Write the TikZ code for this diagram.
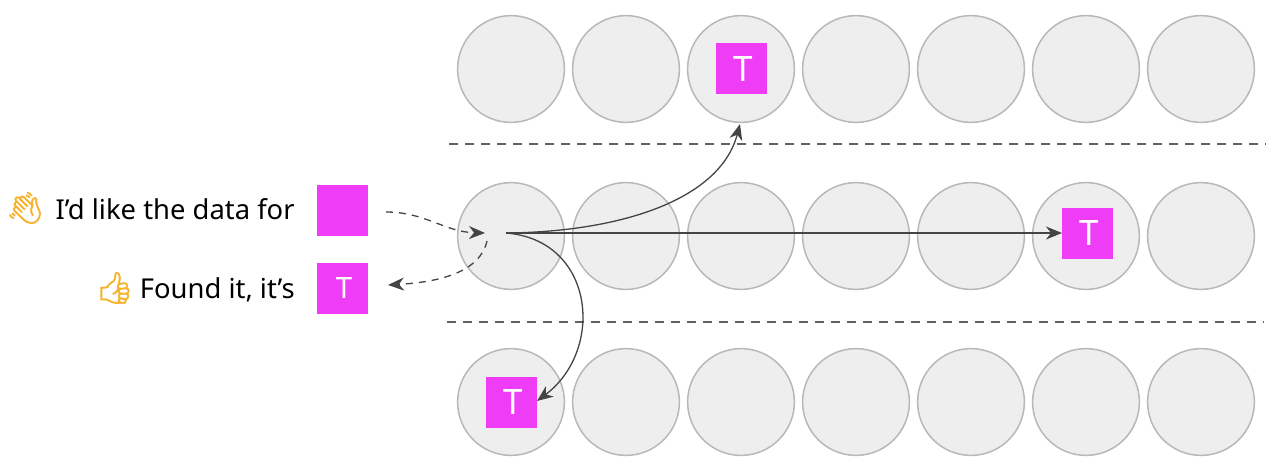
\documentclass[tikz,border=0pt]{standalone}
\usepackage{fontspec}
\setmainfont{Noto Sans}
\newfontfamily\emojifont[FakeBold=2.2]{Noto Emoji}
\usetikzlibrary{arrows.meta}
\definecolor{shardfill}{HTML}{EEEEEE}
\definecolor{shardline}{HTML}{B8B8B8}
\definecolor{keypink}{HTML}{EE3CF7}
\definecolor{linkgray}{HTML}{444444}
\definecolor{handyellow}{HTML}{F5B330}
\newcommand{\keymark}{\hspace*{2pt}\raisebox{-0.3pt}{T}}

\begin{document}
\begin{tikzpicture}[x=0.5pt,y=-0.5pt,font=\fontsize{13.7}{15}\selectfont,>={Stealth[length=8pt,width=6.5pt,inset=2.5pt]},
  shard/.style={circle,draw=shardline,fill=shardfill,line width=0.75pt,minimum size=53.4pt,inner sep=0pt},
  keybox/.style={rectangle,fill=keypink,text=white,minimum size=25.5pt,inner sep=0pt,font=\fontsize{17.5}{18}\selectfont},
  link/.style={draw=linkgray,line width=0.65pt},
  divider/.style={draw=linkgray!85,line width=0.6pt,dash pattern=on 4.5pt off 3.5pt},
  emoji/.style={text=handyellow,font=\fontsize{15.5}{16}\emojifont,inner sep=0pt}]
  \useasboundingbox (0,0) rectangle (1280,476);
  \foreach \r/\y in {a/69,b/236,c/402} {
    \foreach \n/\x in {1/511,2/626,3/741,4/856,5/971,6/1086,7/1201} {
      \node[shard] (s\r\n) at (\x,\y) {};
    }
  }
  \node[keybox] (keya) at (741,69) {\keymark};
  \node[keybox] (keyb) at (1087,233) {\keymark};
  \node[keybox] (keyc) at (511,402) {\keymark};
  \node[keybox] (ask) at (342,210) {};
  \node[keybox,font=\fontsize{14.7}{15}\selectfont] (found) at (342,288) {\keymark};
  \node[anchor=base east,inner sep=0pt] (asktext) at (295,220) {I’d like the data for};
  \node[anchor=base east,inner sep=0pt] (foundtext) at (295,298) {Found it, it’s};
  \node[emoji] (wave) at (25,208) {👋};
  \node[emoji] (thumb) at (115,288) {👍};
  \coordinate (hub) at (506,233);
  \coordinate (askout) at (386,212);
  \coordinate (askin) at (485,233);
  \coordinate (replyout) at (487,241);
  \coordinate (replyin) at (388,285);
  \coordinate (topin) at (740,124);
  \coordinate (midin) at (1062,233);
  \coordinate (lowin) at (537,401);
  \draw[divider] (449,144) -- (1266,144);
  \draw[divider] (447,322) -- (1264,322);
  \draw[link,->] (hub) .. controls (620,232) and (720,200) .. (topin);
  \draw[link,->] (hub) -- (midin);
  \draw[link,->] (hub) .. controls (595,240) and (605,350) .. (lowin);
  \draw[link,->,dash pattern=on 3.5pt off 3pt] (askout) .. controls (425,212) and (445,232) .. (askin);
  \draw[link,->,dash pattern=on 3.5pt off 3pt] (replyout) .. controls (480,272) and (440,282) .. (replyin);
\end{tikzpicture}
\end{document}
